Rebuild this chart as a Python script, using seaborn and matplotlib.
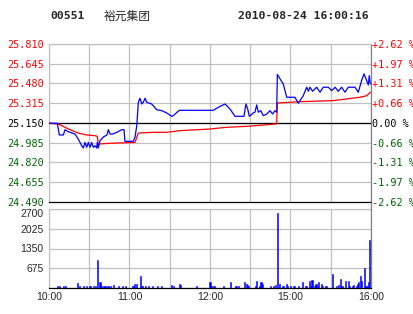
import matplotlib
matplotlib.use("Agg")
import matplotlib.pyplot as plt
from matplotlib.lines import Line2D
import seaborn as sns
import pandas as pd

# ---------------- data ----------------
stock_code = "00551"
stock_name = "裕元集团"
stamp = "2010-08-24 16:00:16"
prev_close = 25.150

# trading minutes from open (10:00-12:30, 14:30-16:00 -> 0..240)
price_min = [0, 6.2, 7.7, 10.7, 11.9, 14.4, 19.4, 21.8, 24.4, 25.6, 26.8, 28.1, 29.3, 30.6,
             31.8, 33.0, 34.3, 35.5, 36.0, 36.7, 38.0, 40.5, 43.2, 44.2, 45.5, 47.5, 50.5,
             54.2, 55.9, 56.6, 62.8, 64.1, 65.4, 66.6, 67.8, 69.1, 70.3, 71.6, 72.8, 76.5,
             80.3, 84.0, 87.7, 91.4, 92.6, 97.1, 122.5, 126.2, 131.2, 134.9, 138.6, 145.3,
             146.8, 148.1, 149.3, 152.3, 153.5, 154.8, 156.0, 157.8, 159.7, 162.3, 164.7,
             166.7, 168.4, 169.7, 170.2, 172.2, 174.6, 177.2, 183.3, 185.8, 189.5, 192.1,
             193.3, 194.5, 196.5, 199.5, 202.0, 204.4, 208.2, 210.7, 213.2, 215.6, 218.1,
             220.6, 223.1, 228.1, 230.5, 233.0, 234.8, 236.8, 238.0, 238.7, 239.5]
price = [25.148, 25.148, 25.050, 25.050, 25.094, 25.077, 25.058, 25.016, 24.960, 24.941,
         24.988, 24.947, 24.988, 24.947, 24.988, 24.947, 24.960, 24.941, 24.988, 24.941,
         25.002, 25.033, 25.050, 25.094, 25.058, 25.058, 25.072, 25.094, 25.094, 24.997,
         24.997, 25.030, 25.127, 25.323, 25.357, 25.309, 25.323, 25.357, 25.323, 25.309,
         25.261, 25.253, 25.234, 25.206, 25.211, 25.256, 25.256, 25.281, 25.309, 25.267,
         25.206, 25.206, 25.309, 25.267, 25.206, 25.234, 25.240, 25.301, 25.240, 25.253,
         25.211, 25.225, 25.253, 25.225, 25.253, 25.240, 25.556, 25.518, 25.476, 25.365,
         25.365, 25.315, 25.378, 25.449, 25.415, 25.449, 25.415, 25.449, 25.407, 25.449,
         25.449, 25.420, 25.449, 25.415, 25.449, 25.407, 25.449, 25.449, 25.407, 25.504,
         25.560, 25.504, 25.468, 25.546, 25.476]

avg_min = [0, 6.9, 11.9, 15.7, 21.8, 28.1, 34.3, 36.0, 36.7, 44.2, 64.1, 66.6, 77.7, 87.7,
           97.6, 120.0, 132.4, 147.3, 169.7, 170.2, 187.1, 211.7, 231.8, 236.8, 239.5]
avg_price = [25.148, 25.142, 25.114, 25.094, 25.066, 25.050, 25.044, 25.039, 24.974, 24.980,
             24.988, 25.066, 25.072, 25.072, 25.086, 25.100, 25.114, 25.122, 25.142, 25.317,
             25.328, 25.337, 25.365, 25.378, 25.407]

vol_min = [6, 8, 11, 12, 21, 23, 26, 28, 30, 31, 33, 35, 36, 38, 39, 41, 42, 44, 46, 48, 52,
           55, 57, 62, 63, 64, 65, 68, 69, 70, 72, 74, 77, 81, 84, 91, 93, 97, 98, 110, 120,
           121, 123, 130, 135, 139, 140, 141, 146, 147, 148, 149, 154, 155, 157, 158, 159,
           165, 167, 169, 170, 172, 174, 175, 177, 178, 180, 182, 183, 186, 189, 191, 192,
           194, 195, 196, 198, 199, 200, 201, 203, 204, 206, 207, 211, 214, 216, 217, 218,
           219, 221, 223, 224, 226, 227, 229, 230, 231, 232, 233, 235, 236, 237, 238, 239]
volume = [80, 80, 80, 80, 170, 80, 80, 80, 80, 80, 80, 80, 970, 220, 80, 80, 80, 80, 80, 110,
          80, 80, 80, 80, 80, 150, 150, 420, 80, 80, 80, 80, 80, 80, 80, 110, 80, 150, 110, 80,
          220, 80, 80, 80, 220, 80, 80, 80, 190, 150, 110, 80, 80, 250, 80, 190, 150, 80, 80,
          110, 2570, 150, 80, 80, 150, 80, 80, 80, 80, 80, 190, 80, 80, 250, 80, 290, 80, 150,
          80, 190, 150, 80, 80, 80, 490, 80, 110, 320, 80, 80, 250, 250, 80, 80, 110, 80, 150,
          190, 420, 250, 700, 80, 80, 220, 1650]

time_ticks = [0, 30, 60, 90, 120, 150, 180, 210, 240]
time_labels = ["10:00", "", "11:00", "", "12:00", "", "15:00", "", "16:00"]
price_ticks = [25.810, 25.645, 25.480, 25.315, 25.150, 24.985, 24.820, 24.655, 24.490]
pct_labels = ["+2.62 %", "+1.97 %", "+1.31 %", "+0.66 %", "0.00 %",
              "-0.66 %", "-1.31 %", "-1.97 %", "-2.62 %"]
vol_ticks = [0, 675, 1350, 2025, 2700]
vol_labels = ["", "675", "1350", "2025", "2700"]

# ---------------- styling ----------------
RED = "#ff0000"
GREEN = "#006400"
BLUE = "#0000ff"
GRID = "#c0c0c0"
EDGE = "#808080"
MONO = "DejaVu Sans Mono"

sns.set_style("white")
plt.rcParams["font.family"] = ["Liberation Sans", "DejaVu Sans"]

W, H = 414, 314
fig = plt.figure(figsize=(W / 100, H / 100), dpi=100)
fig.patch.set_facecolor("white")

def fx(px):
    return px / W

def fy(py):
    return 1 - py / H

L, R = 49, 371
ax = fig.add_axes([fx(L), fy(202), fx(R - L), (202 - 44) / H])
axv = fig.add_axes([fx(L), fy(288), fx(R - L), (288 - 209) / H])

lw = 0.9
df_p = pd.DataFrame({"t": price_min, "p": price})
df_a = pd.DataFrame({"t": avg_min, "p": avg_price})
sns.lineplot(data=df_a, x="t", y="p", ax=ax, color=RED, linewidth=lw, estimator=None, zorder=4)
sns.lineplot(data=df_p, x="t", y="p", ax=ax, color=BLUE, linewidth=lw, estimator=None, zorder=5)
ax.axhline(prev_close, color="black", linewidth=lw, zorder=3)

ax.set_xlim(0, 240)
ax.set_ylim(price_ticks[-1], price_ticks[0])
ax.set_xticks(time_ticks)
ax.set_xticklabels([])
ax.set_yticks(price_ticks)
ax.set_yticklabels([f"{v:.3f}" for v in price_ticks])
ax.grid(True, color=GRID, linewidth=lw, zorder=0)
ax.set_axisbelow(True)
ax.set_xlabel("")
ax.set_ylabel("")
ax.tick_params(axis="both", length=0)
ax.tick_params(axis="y", pad=4, labelsize=7.3)
for lab, v in zip(ax.get_yticklabels(), price_ticks):
    lab.set_fontfamily(MONO)
    lab.set_color(RED if v > prev_close + 1e-9 else ("black" if abs(v - prev_close) < 1e-9 else GREEN))
for s in ["top", "left"]:
    ax.spines[s].set_color(GRID)
    ax.spines[s].set_linewidth(lw)
ax.spines["right"].set_color(EDGE)
ax.spines["right"].set_linewidth(lw)
ax.spines["bottom"].set_color("black")
ax.spines["bottom"].set_linewidth(lw)

ax2 = ax.twinx()
ax2.set_ylim(ax.get_ylim())
ax2.set_yticks(price_ticks)
ax2.set_yticklabels(pct_labels)
ax2.tick_params(axis="y", length=0, pad=1, labelsize=7.3)
for lab, v in zip(ax2.get_yticklabels(), price_ticks):
    lab.set_fontfamily(MONO)
    lab.set_color(RED if v > prev_close + 1e-9 else ("black" if abs(v - prev_close) < 1e-9 else GREEN))
for s in ax2.spines.values():
    s.set_visible(False)

# volume
df_v = pd.DataFrame({"t": vol_min, "v": volume})
sns.barplot(data=df_v, x="t", y="v", ax=axv, native_scale=True, orient="x",
            color=BLUE, saturation=1, width=0.8, linewidth=0.4, edgecolor=BLUE,
            errorbar=None, zorder=3)
for p in axv.patches:
    p.set_facecolor(BLUE)
    p.set_edgecolor(BLUE)
axv.set_xlim(0, 240)
axv.set_ylim(0, 2700)
axv.set_xticks(time_ticks)
axv.set_xticklabels(time_labels)
axv.set_yticks(vol_ticks)
axv.set_yticklabels(vol_labels)
axv.grid(True, color=GRID, linewidth=lw, zorder=0)
axv.set_axisbelow(True)
axv.set_xlabel("")
axv.set_ylabel("")
axv.tick_params(axis="both", length=0, labelsize=7.5)
axv.tick_params(axis="y", pad=4)
axv.tick_params(axis="x", pad=3)
axv.get_yticklabels()[-1].set_va("top")
for s in ["top", "left"]:
    axv.spines[s].set_color(GRID)
    axv.spines[s].set_linewidth(lw)
axv.spines["right"].set_color(EDGE)
axv.spines["right"].set_linewidth(lw)
axv.spines["bottom"].set_color("black")
axv.spines["bottom"].set_linewidth(lw)

# bridge of the right edge between panels
fig.add_artist(Line2D([fx(R), fx(R)], [fy(202), fy(209)], color=EDGE, linewidth=lw))

# header
fig.text(fx(50), fy(16), stock_code, fontfamily=MONO, fontweight="bold", fontsize=8.2,
         va="center", ha="left")
fig.text(fx(104), fy(16), stock_name, fontfamily=["Noto Sans CJK SC"], fontsize=8.5,
         va="center", ha="left")
fig.text(fx(238), fy(16), stamp, fontfamily=MONO, fontweight="bold", fontsize=8.2,
         va="center", ha="left")

fig.savefig("out.png", dpi=100)
